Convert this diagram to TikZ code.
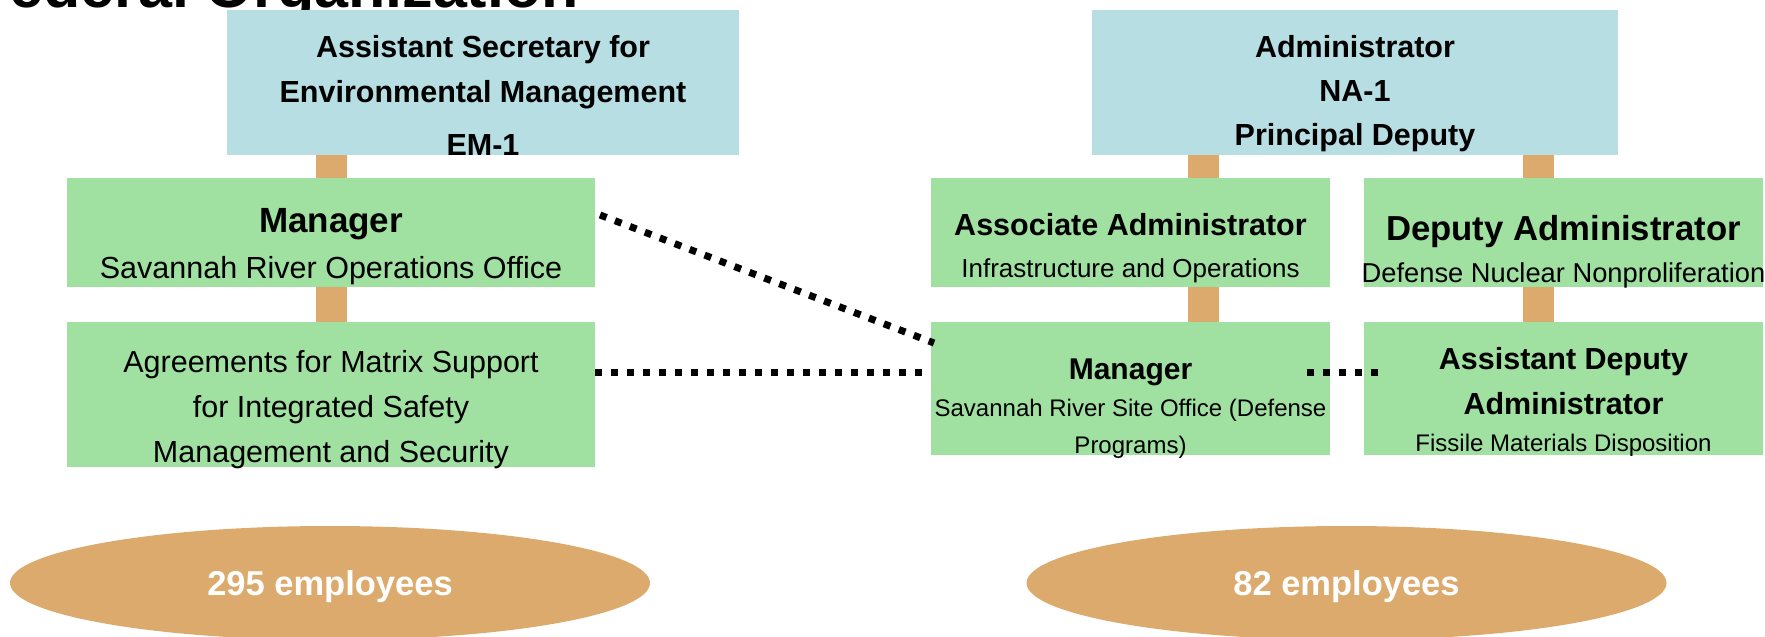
\documentclass[tikz,border=0pt]{standalone}
\usepackage{fontspec}
\setmainfont{Liberation Sans}
\usetikzlibrary{positioning,shapes.geometric}

\definecolor{hqblue}{RGB}{183,222,227}
\definecolor{officegreen}{RGB}{160,224,160}
\definecolor{linktan}{RGB}{219,170,108}

\tikzset{
    box/.style={inner sep=0pt, outer sep=0pt},
    hq/.style={box, fill=hqblue, minimum height=145pt},
    office/.style={box, fill=officegreen},
    boxtext/.style={align=center, inner sep=0pt},
    link/.style={draw=linktan, line width=31pt},
    dotline/.style={line width=7pt, dash pattern=on 7pt off 9pt},
    headcount/.style={ellipse, fill=linktan, inner sep=0pt, text depth=0pt,
        minimum width=640pt, minimum height=114pt, text=white,
        font=\bfseries\fontsize{34.5}{40}\selectfont},
}

\begin{document}
\begin{tikzpicture}[x=1pt, y=-1pt]
    % slide area (title runs off the top edge)
    \clip (0,0) rectangle (1765,637);

    \node[anchor=base east, inner sep=0pt, font=\bfseries\fontsize{61}{61}\selectfont] (title) at (579,8) {Federal Organization};

    % Environmental Management side
    \node[hq, minimum width=512pt] (em) at (483,82.5) {};
    \node[boxtext, below=25pt of em.north, font=\bfseries\fontsize{30.5}{45}\selectfont] (em-text)
        {Assistant Secretary for\\ Environmental Management\\[8pt] EM-1};

    \node[office, minimum width=528pt, minimum height=109pt] (srmgr) at (331,232.5) {};
    \node[boxtext, below=30pt of srmgr.north, font=\fontsize{30.5}{46}\selectfont] (srmgr-text)
        {{\bfseries\fontsize{35}{46}\selectfont Manager}\\ Savannah River Operations Office};

    \node[office, minimum width=528pt, minimum height=145pt] (matrix) at (331,394.5) {};
    \node[boxtext, below=28pt of matrix.north, font=\fontsize{30.5}{45}\selectfont] (matrix-text)
        {Agreements for Matrix Support\\ for Integrated Safety\\ Management and Security};

    \draw[link] (srmgr.north) -- (srmgr.north |- em.south);
    \draw[link] (srmgr.south) -- (matrix.north);

    % NNSA side
    \node[hq, minimum width=526pt] (na) at (1355,82.5) {};
    \node[boxtext, below=25pt of na.north, font=\bfseries\fontsize{30.5}{44}\selectfont] (na-text)
        {Administrator\\ NA-1\\ Principal Deputy};

    \node[office, minimum width=399pt, minimum height=109pt] (assoc) at (1130.5,232.5) {};
    \node[boxtext, below=35pt of assoc.north, font=\fontsize{26}{42}\selectfont] (assoc-text)
        {{\bfseries\fontsize{30.5}{42}\selectfont Associate Administrator}\\ Infrastructure and Operations};

    \node[office, minimum width=399pt, minimum height=109pt] (deputy) at (1563.5,232.5) {};
    \node[boxtext, below=37pt of deputy.north, font=\fontsize{27.3}{42}\selectfont] (deputy-text)
        {{\bfseries\fontsize{34.7}{42}\selectfont Deputy Administrator}\\ Defense Nuclear Nonproliferation};

    \node[office, minimum width=399pt, minimum height=133pt] (srso) at (1130.5,388.5) {};
    \node[boxtext, below=37pt of srso.north, font=\fontsize{24}{37}\selectfont] (srso-text)
        {{\bfseries\fontsize{30}{37}\selectfont Manager}\\ Savannah River Site Office (Defense\\ Programs)};

    \node[office, minimum width=399pt, minimum height=133pt] (fmd) at (1563.5,388.5) {};
    \node[boxtext, below=25pt of fmd.north, font=\fontsize{24}{37}\selectfont] (fmd-text)
        {{\bfseries\fontsize{30.5}{37}\selectfont Assistant Deputy}\\[8pt]
         {\bfseries\fontsize{30.5}{37}\selectfont Administrator}\\ Fissile Materials Disposition};

    \coordinate (ioline) at ([xshift=73pt]assoc.north);
    \coordinate (dnline) at ([xshift=-25pt]deputy.north);
    \draw[link] (ioline) -- (ioline |- na.south);
    \draw[link] (ioline |- assoc.south) -- (ioline |- srso.north);
    \draw[link] (dnline) -- (dnline |- na.south);
    \draw[link] (dnline |- deputy.south) -- (dnline |- fmd.north);

    % matrix support lines
    \coordinate (mx) at ([yshift=22.5pt]matrix.east);
    \draw[dotline] ([shift={(5,-17.5)}]srmgr.east) -- ([shift={(3,21)}]srso.north west);
    \draw[dotline] (mx) -- (mx -| srso.west);
    \draw[dotline] ([shift={(-23,-16.5)}]srso.east) -- ([shift={(16,-16.5)}]fmd.west);

    % staffing
    \node[headcount] (em-staff) at (330,583) {295 employees};
    \node[headcount] (na-staff) at (1346.5,583) {82 employees};
\end{tikzpicture}
\end{document}
